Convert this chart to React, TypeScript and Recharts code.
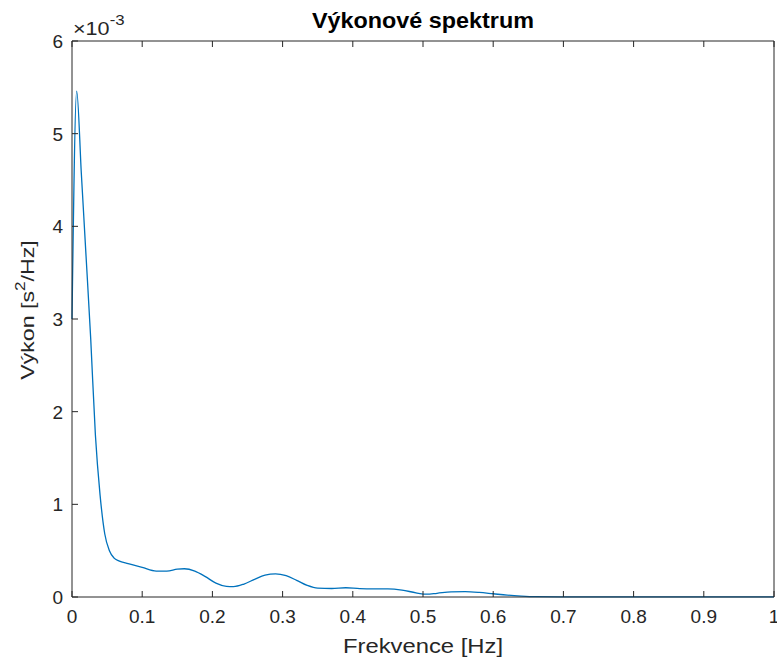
import React from 'react';
import { LineChart, Line, XAxis, YAxis } from 'recharts';

// frequency [Hz]
const freq = [
  0, 0.0067, 0.0133, 0.02, 0.0267, 0.0333, 0.04, 0.0467, 0.0533, 0.06, 0.0667,
  0.08, 0.1, 0.12, 0.135, 0.15, 0.16, 0.175, 0.19, 0.205, 0.22, 0.23, 0.245,
  0.26, 0.275, 0.29, 0.305, 0.32, 0.335, 0.35, 0.37, 0.39, 0.41, 0.43, 0.45,
  0.47, 0.49, 0.505, 0.52, 0.54, 0.56, 0.58, 0.6, 0.62, 0.64, 0.66, 0.7, 0.8,
  0.9, 1.0,
];
// power, in units of 1e-3 s^2/Hz
const power = [
  3.0, 5.46, 4.57, 3.68, 2.78, 1.75, 1.1, 0.68, 0.5, 0.42, 0.39,
  0.36, 0.32, 0.28, 0.28, 0.3, 0.305, 0.28, 0.22, 0.15, 0.115, 0.112, 0.14,
  0.19, 0.235, 0.25, 0.23, 0.18, 0.125, 0.095, 0.092, 0.1, 0.09, 0.088, 0.088,
  0.075, 0.045, 0.03, 0.04, 0.055, 0.058, 0.05, 0.035, 0.02, 0.01, 0.004, 0.002, 0.001,
  0.0005, 0.0005,
];
const xTicks = [0, 0.1, 0.2, 0.3, 0.4, 0.5, 0.6, 0.7, 0.8, 0.9, 1];
const yTicks = [0, 1, 2, 3, 4, 5, 6];

const data = freq.map((f, i) => ({ f, p: power[i] }));

const W = 777;
const H = 663;
const FONT = '"Liberation Sans", Arial, sans-serif';
const AX = '#262626';
const TICK = 6;

const BottomTick = (props: any) => {
  const { x, y, payload } = props;
  return (
    <g>
      <line x1={x} x2={x} y1={y} y2={y - TICK} stroke={AX} strokeWidth={1} />
      <text x={x} y={y + 26} textAnchor="middle" fontSize={19} fill={AX} fontFamily={FONT}>
        {String(payload.value)}
      </text>
    </g>
  );
};

const LeftTick = (props: any) => {
  const { x, y, payload } = props;
  return (
    <g>
      <line x1={x} x2={x + TICK} y1={y} y2={y} stroke={AX} strokeWidth={1} />
      <text x={x - 9} y={y + 7} textAnchor="end" fontSize={19} fill={AX} fontFamily={FONT}>
        {String(payload.value)}
      </text>
    </g>
  );
};

const TopTick = (props: any) => {
  const { x, y } = props;
  return <line x1={x} x2={x} y1={y} y2={y + TICK} stroke={AX} strokeWidth={1} />;
};

const RightTick = (props: any) => {
  const { x, y } = props;
  return <line x1={x} x2={x - TICK} y1={y} y2={y} stroke={AX} strokeWidth={1} />;
};

export default function App() {
  return (
    <div style={{ position: 'absolute', left: 0, top: 0, width: W, height: H, background: '#fff' }}>
      <LineChart width={W} height={H} data={data} margin={{ top: 40, right: 2, bottom: 0, left: 0 }}>
        <XAxis
          xAxisId="b"
          dataKey="f"
          type="number"
          domain={[0, 1]}
          ticks={xTicks}
          interval={0}
          height={66}
          tickLine={false}
          tickSize={0}
          tickMargin={0}
          tick={<BottomTick />}
          axisLine={{ stroke: AX, strokeWidth: 1 }}
        />
        <XAxis
          xAxisId="t"
          orientation="top"
          dataKey="f"
          type="number"
          domain={[0, 1]}
          ticks={xTicks}
          interval={0}
          height={1}
          tickLine={false}
          tickSize={0}
          tickMargin={0}
          tick={<TopTick />}
          axisLine={{ stroke: AX, strokeWidth: 1 }}
        />
        <YAxis
          yAxisId="l"
          type="number"
          domain={[0, 6]}
          ticks={yTicks}
          interval={0}
          width={72}
          tickLine={false}
          tickSize={0}
          tickMargin={0}
          tick={<LeftTick />}
          axisLine={{ stroke: AX, strokeWidth: 1 }}
        />
        <YAxis
          yAxisId="r"
          orientation="right"
          type="number"
          domain={[0, 6]}
          ticks={yTicks}
          interval={0}
          width={1}
          tickLine={false}
          tickSize={0}
          tickMargin={0}
          tick={<RightTick />}
          axisLine={{ stroke: AX, strokeWidth: 1 }}
        />
        <Line
          xAxisId="b"
          yAxisId="l"
          dataKey="p"
          type="monotone"
          stroke="#0072BD"
          strokeWidth={1.3}
          dot={false}
          activeDot={false}
          isAnimationActive={false}
        />
      </LineChart>
      <svg
        width={W}
        height={H}
        style={{ position: 'absolute', left: 0, top: 0, pointerEvents: 'none' }}
        fontFamily={FONT}
      >
        <text
          x={423}
          y={28}
          textAnchor="middle"
          fontSize={22}
          fontWeight="bold"
          fill="#000"
          textLength={222}
          lengthAdjust="spacingAndGlyphs"
        >
          Výkonové spektrum
        </text>
        <g transform="translate(73,35) scale(1.2,1)">
          <text x={0} y={0} fontSize={18} fill={AX}>
            ×10
            <tspan dy={-10} fontSize={14}>-3</tspan>
          </text>
        </g>
        <text
          x={423}
          y={653}
          textAnchor="middle"
          fontSize={20}
          fill={AX}
          textLength={160}
          lengthAdjust="spacingAndGlyphs"
        >
          Frekvence [Hz]
        </text>
        <g transform="translate(34,310) rotate(-90) scale(1.22,1)">
          <text x={0} y={0} textAnchor="middle" fontSize={19} fill={AX}>
            Výkon [s
            <tspan dy={-9} fontSize={14}>2</tspan>
            <tspan dy={9}>/Hz]</tspan>
          </text>
        </g>
      </svg>
    </div>
  );
}
